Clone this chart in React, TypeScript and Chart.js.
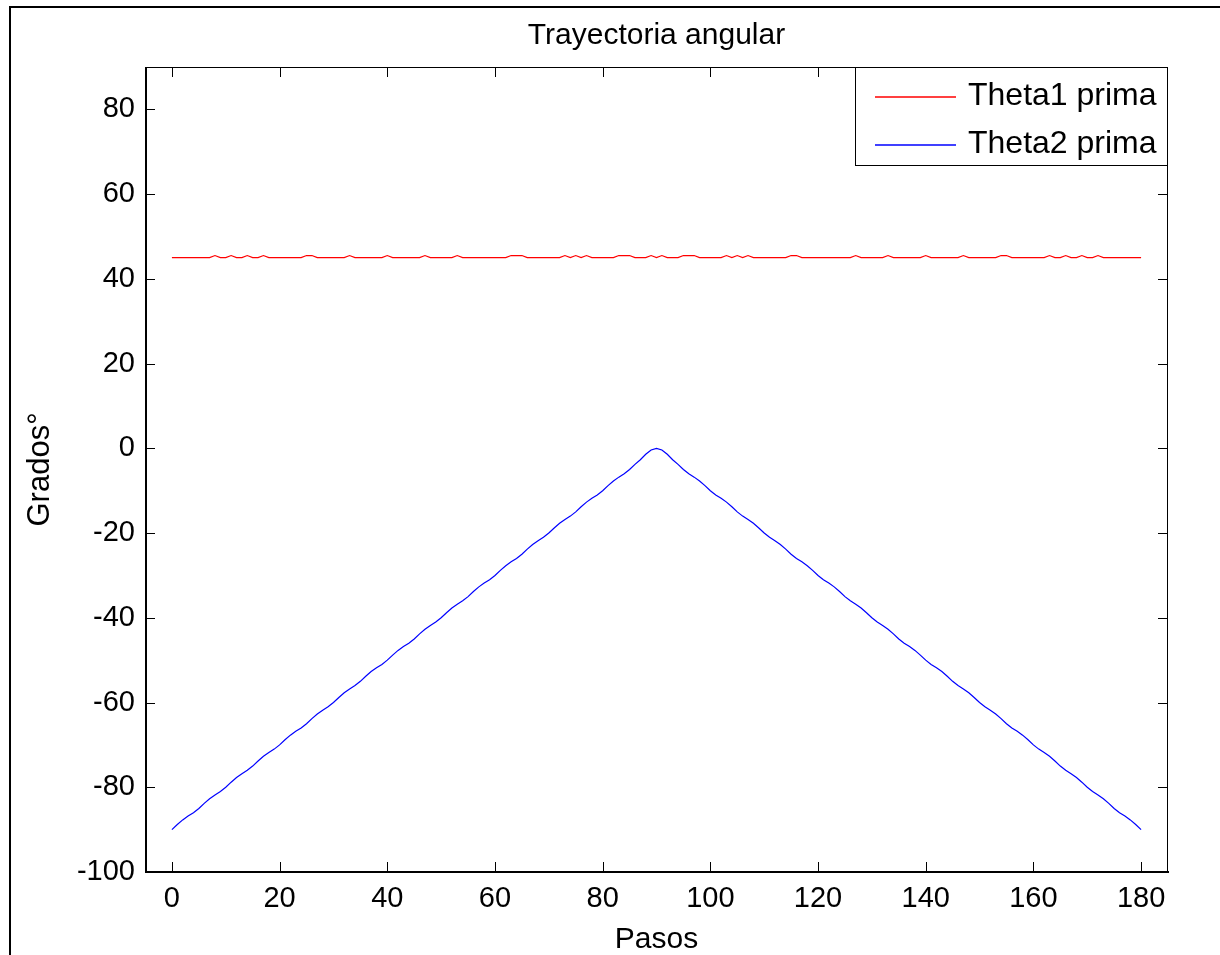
import { useEffect, useRef } from "react";
import { Chart, registerables } from "chart.js";

Chart.register(...registerables);

const chartTitle = "Trayectoria angular";
const xAxisTitle = "Pasos";
const yAxisTitle = "Grados°";
const seriesLabels = ["Theta1 prima", "Theta2 prima"];
const seriesColors = ["#ff0000", "#0000ff"];

const xRange = [-5, 185];
const yRange = [-100, 90];
const xTickValues = [0, 20, 40, 60, 80, 100, 120, 140, 160, 180];
const yTickValues = [-100, -80, -60, -40, -20, 0, 20, 40, 60, 80];

const theta1Steps = [
  0, 7, 8, 9, 10, 11, 12, 13, 14, 15, 16, 17, 18, 24, 25, 26, 27, 32, 33, 34,
  39, 40, 41, 46, 47, 48, 52, 53, 54, 62, 63, 65, 66, 72, 73, 74, 75, 76, 77, 78,
  82, 83, 85, 86, 88, 89, 90, 91, 92, 94, 95, 97, 98, 102, 103, 104, 105, 106, 107, 108,
  114, 115, 116, 117, 126, 127, 128, 132, 133, 134, 139, 140, 141, 146, 147, 148, 153, 154, 155, 156,
  162, 163, 164, 165, 166, 167, 168, 169, 170, 171, 172, 173, 180,
];
const theta1Values = [
  45, 45, 45.5, 45, 45, 45.5, 45, 45, 45.5, 45, 45, 45.5, 45, 45, 45.5, 45.5, 45, 45, 45.5, 45,
  45, 45.5, 45, 45, 45.5, 45, 45, 45.5, 45, 45, 45.5, 45.5, 45, 45, 45.5, 45, 45.5, 45, 45.5, 45,
  45, 45.5, 45.5, 45, 45, 45.5, 45, 45.5, 45, 45, 45.5, 45.5, 45, 45, 45.5, 45, 45.5, 45, 45.5, 45,
  45, 45.5, 45.5, 45, 45, 45.5, 45, 45, 45.5, 45, 45, 45.5, 45, 45, 45.5, 45, 45, 45.5, 45.5, 45,
  45, 45.5, 45, 45, 45.5, 45, 45, 45.5, 45, 45, 45.5, 45, 45,
];

const theta2Values = [
  -90, -88.8, -87.7, -86.8, -86, -85, -83.8, -82.7, -81.8, -81,
  -80, -78.8, -77.7, -76.8, -76, -75, -73.8, -72.7, -71.8, -71,
  -70, -68.8, -67.7, -66.8, -66, -65, -63.8, -62.7, -61.8, -61,
  -60, -58.8, -57.7, -56.8, -56, -55, -53.8, -52.7, -51.8, -51,
  -50, -48.8, -47.7, -46.8, -46, -45, -43.8, -42.7, -41.8, -41,
  -40, -38.8, -37.7, -36.8, -36, -35, -33.8, -32.7, -31.8, -31,
  -30, -28.8, -27.7, -26.8, -26, -25, -23.8, -22.7, -21.8, -21,
  -20, -18.8, -17.7, -16.8, -16, -15, -13.8, -12.7, -11.8, -11,
  -10, -8.8, -7.7, -6.8, -6, -5, -3.8, -2.7, -1.4, -0.4,
  0,
  -0.4, -1.4, -2.7, -3.8, -5, -6, -6.8, -7.7, -8.8, -10,
  -11, -11.8, -12.7, -13.8, -15, -16, -16.8, -17.7, -18.8, -20,
  -21, -21.8, -22.7, -23.8, -25, -26, -26.8, -27.7, -28.8, -30,
  -31, -31.8, -32.7, -33.8, -35, -36, -36.8, -37.7, -38.8, -40,
  -41, -41.8, -42.7, -43.8, -45, -46, -46.8, -47.7, -48.8, -50,
  -51, -51.8, -52.7, -53.8, -55, -56, -56.8, -57.7, -58.8, -60,
  -61, -61.8, -62.7, -63.8, -65, -66, -66.8, -67.7, -68.8, -70,
  -71, -71.8, -72.7, -73.8, -75, -76, -76.8, -77.7, -78.8, -80,
  -81, -81.8, -82.7, -83.8, -85, -86, -86.8, -87.7, -88.8, -90,
];

const FONT = "'Liberation Sans', Arial, Helvetica, sans-serif";
const W = 1220;
const H = 955;

const matlabPlugin = {
  id: "matlabFrame",
  beforeDraw(chart: any) {
    const ctx = chart.ctx;
    ctx.save();
    ctx.fillStyle = "#ffffff";
    ctx.fillRect(0, 0, W, H);
    ctx.fillStyle = "#000000";
    ctx.fillRect(9, 6, W - 9, 2);
    ctx.fillRect(9, 6, 2, H - 6);
    ctx.restore();
  },
  afterDatasetsDraw(chart: any) {
    const ctx = chart.ctx;
    const { left, right, top, bottom } = chart.chartArea;
    const xs = chart.scales.x;
    const ys = chart.scales.y;
    ctx.save();
    ctx.fillStyle = "#000000";
    // axes box
    ctx.fillRect(left, top, right - left, 1);
    ctx.fillRect(left, bottom - 1, right - left + 1, 2);
    ctx.fillRect(left, top, 2, bottom - top);
    ctx.fillRect(right - 1, top, 1, bottom - top);
    // inward ticks on all sides
    const tl = 10;
    xTickValues.forEach((v) => {
      const px = Math.round(xs.getPixelForValue(v));
      ctx.fillRect(px, bottom - tl, 1, tl);
      ctx.fillRect(px, top, 1, tl);
    });
    yTickValues.forEach((v) => {
      const py = Math.round(ys.getPixelForValue(v));
      ctx.fillRect(left, py, tl, 1);
      ctx.fillRect(right - tl, py, tl, 1);
    });

    // title
    ctx.textAlign = "center";
    ctx.textBaseline = "middle";
    ctx.font = `30px ${FONT}`;
    ctx.fillText(chartTitle, (left + right) / 2, 36);
    // x axis title
    ctx.fillText(xAxisTitle, (left + right) / 2, 940);
    // y axis title
    ctx.save();
    ctx.font = `31px ${FONT}`;
    ctx.translate(40, (top + bottom) / 2);
    ctx.rotate(-Math.PI / 2);
    ctx.fillText(yAxisTitle, 0, 0);
    ctx.restore();

    // legend
    const lx = 855;
    const ly = top;
    const lw = right - 1 - lx;
    const lh = 98;
    ctx.fillStyle = "#ffffff";
    ctx.fillRect(lx, ly, lw, lh);
    ctx.strokeStyle = "#000000";
    ctx.lineWidth = 1;
    ctx.strokeRect(lx + 0.5, ly + 0.5, lw, lh);
    const rows = [97, 145];
    seriesLabels.forEach((label, i) => {
      const ry = rows[i];
      ctx.strokeStyle = seriesColors[i];
      ctx.lineWidth = 1.6;
      ctx.beginPath();
      ctx.moveTo(875, ry);
      ctx.lineTo(956, ry);
      ctx.stroke();
      ctx.fillStyle = "#000000";
      ctx.textAlign = "left";
      ctx.textBaseline = "middle";
      ctx.font = `32px ${FONT}`;
      ctx.fillText(label, 968, ry - 1);
    });
    ctx.restore();
  },
};

export default function App() {
  const canvasRef = useRef<HTMLCanvasElement | null>(null);

  useEffect(() => {
    document.body.style.margin = "0";
    const canvas = canvasRef.current;
    if (!canvas) return;
    const chart = new Chart(canvas, {
      type: "line",
      data: {
        datasets: [
          {
            label: seriesLabels[0],
            data: theta1Steps.map((s, i) => ({ x: s, y: theta1Values[i] })),
            borderColor: seriesColors[0],
            borderWidth: 1.2,
            pointRadius: 0,
            tension: 0,
            fill: false,
          },
          {
            label: seriesLabels[1],
            data: theta2Values.map((v, i) => ({ x: i, y: v })),
            borderColor: seriesColors[1],
            borderWidth: 1.2,
            pointRadius: 0,
            tension: 0,
            fill: false,
          },
        ],
      },
      options: {
        animation: false,
        responsive: false,
        devicePixelRatio: 1,
        layout: { padding: { left: 0, top: 67, right: 52, bottom: 0 } },
        plugins: {
          legend: { display: false },
          title: { display: false },
          tooltip: { enabled: false },
        },
        scales: {
          x: {
            type: "linear",
            min: xRange[0],
            max: xRange[1],
            grid: { display: false, drawTicks: false },
            border: { display: false },
            afterBuildTicks: (scale: any) => {
              scale.ticks = xTickValues.map((v) => ({ value: v }));
            },
            afterFit: (scale: any) => {
              scale.height = 83;
            },
            ticks: {
              padding: 10,
              color: "#000000",
              maxRotation: 0,
              autoSkip: false,
              font: { family: FONT, size: 29 },
            },
          },
          y: {
            type: "linear",
            min: yRange[0],
            max: yRange[1],
            grid: { display: false, drawTicks: false },
            border: { display: false },
            afterBuildTicks: (scale: any) => {
              scale.ticks = yTickValues.map((v) => ({ value: v }));
            },
            afterFit: (scale: any) => {
              scale.width = 145;
            },
            ticks: {
              padding: 10,
              color: "#000000",
              autoSkip: false,
              font: { family: FONT, size: 29 },
            },
          },
        },
      },
      plugins: [matlabPlugin],
    } as any);
    return () => chart.destroy();
  }, []);

  return (
    <div style={{ width: W, height: H, position: "relative" }}>
      <canvas ref={canvasRef} width={W} height={H} style={{ display: "block" }} />
    </div>
  );
}
